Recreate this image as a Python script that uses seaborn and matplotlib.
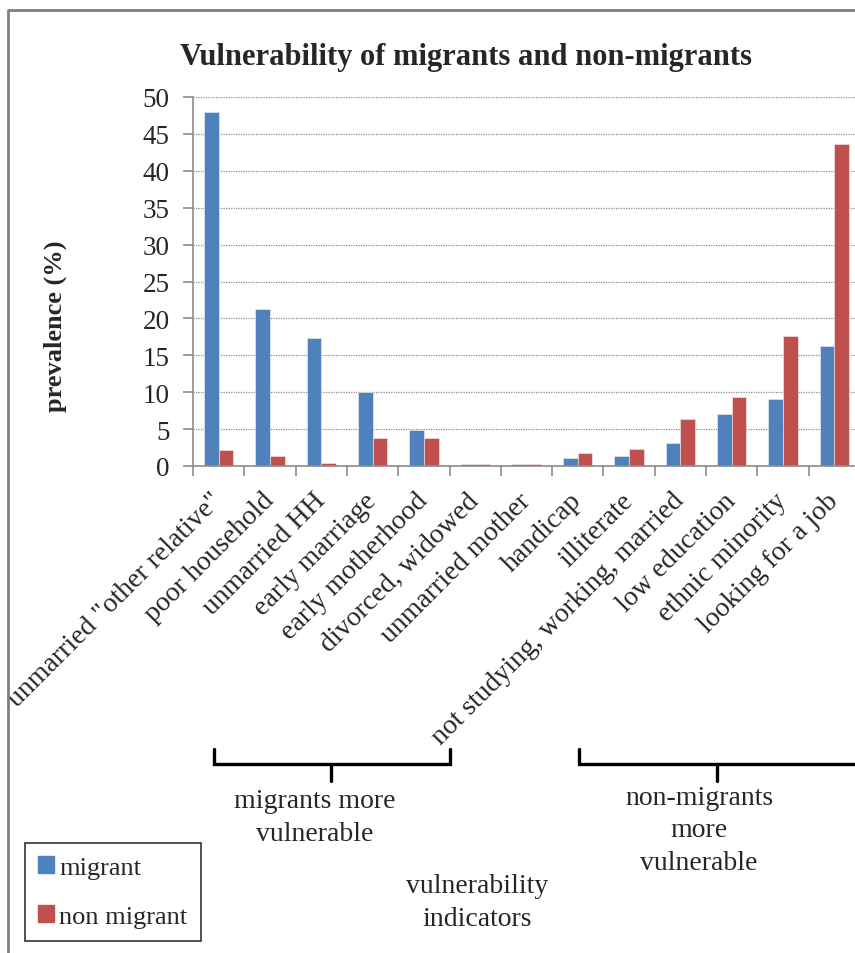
import numpy as np
import pandas as pd
import matplotlib
matplotlib.use("Agg")
import matplotlib.pyplot as plt
from matplotlib.lines import Line2D
import seaborn as sns

# values
indicators = ['unmarried "other relative"', 'poor household', 'unmarried HH',
              'early marriage', 'early motherhood', 'divorced, widowed',
              'unmarried mother', 'handicap', 'illiterate',
              'not studying, working, married', 'low education',
              'ethnic minority', 'looking for a job']
migrant = [48.0, 21.3, 17.3, 10.0, 4.9, 0.3, 0.3, 1.1, 1.3, 3.1, 7.0, 9.1, 16.2]
non_migrant = [2.2, 1.3, 0.4, 3.8, 3.8, 0.3, 0.3, 1.8, 2.3, 6.4, 9.4, 17.6, 43.6]
groups = ['migrant', 'non migrant']
colors = ['#4F81BD', '#C0504D']

df = pd.DataFrame({
    'indicator': indicators * 2,
    'group': [groups[0]] * len(indicators) + [groups[1]] * len(indicators),
    'value': migrant + non_migrant,
})

sns.set_style('white')
plt.rcParams['font.family'] = ['Liberation Serif', 'DejaVu Serif']

W, H = 855, 954
fig = plt.figure(figsize=(W / 100, H / 100), dpi=100)
ax = fig.add_axes([193 / W, 1 - 467 / H, 667 / W, 369 / H])

sns.barplot(data=df, x='indicator', y='value', hue='group', palette=colors,
            order=indicators, hue_order=groups, width=0.57, gap=0,
            saturation=1, edgecolor='#f2f2f2', linewidth=0.4, ax=ax)

ax.set_ylim(0, 50)
ax.set_xlim(-0.5, len(indicators) - 0.5)
ax.set_yticks(np.arange(0, 51, 5))
ax.yaxis.grid(True, linestyle=(0, (1, 1)), color='#8c8c8c', linewidth=0.9)
ax.set_axisbelow(True)
for side in ['top', 'right']:
    ax.spines[side].set_visible(False)
for side in ['left', 'bottom']:
    ax.spines[side].set_color('#8c8c8c')
    ax.spines[side].set_linewidth(1.2)

ax.tick_params(axis='y', labelsize=19.5, length=7, width=1.2, color='#8c8c8c',
               pad=10, left=True)
ax.set_xticks(np.arange(-0.5, len(indicators), 1), minor=True)
ax.tick_params(axis='x', which='minor', length=7, width=1.2, color='#8c8c8c', bottom=True)
ax.tick_params(axis='x', which='major', length=0, pad=22)
ax.set_xticks(range(len(indicators)))
ax.set_xticklabels(indicators, rotation=45, ha='right', va='center',
                   rotation_mode='anchor', fontsize=20)
ax.set_xlabel('')
ax.set_ylabel('')
ax.legend_.remove()

fig.text(466 / W, 1 - 58 / H, 'Vulnerability of migrants and non-migrants',
         ha='center', va='center', fontsize=22, fontweight='bold')
fig.text(55 / W, 1 - 326 / H, 'prevalence (%)', rotation=90,
         ha='center', va='center', fontsize=19, fontweight='bold')

# brackets grouping the indicators
def bracket(x0, x1, xm):
    kw = dict(color='black', linewidth=2.4, transform=fig.transFigure,
              solid_joinstyle='miter')
    ys = [1 - 750 / H, 1 - 765 / H, 1 - 765 / H, 1 - 750 / H]
    fig.add_artist(Line2D([x0 / W, x0 / W, x1 / W, x1 / W], ys, **kw))
    fig.add_artist(Line2D([xm / W, xm / W], [1 - 765 / H, 1 - 782 / H], **kw))

bracket(214, 450, 331)
bracket(579, 858, 717)

fig.text(315 / W, 1 - 818 / H, 'migrants more\nvulnerable', ha='center',
         va='center', fontsize=20, linespacing=1.4)
fig.text(699 / W, 1 - 831 / H, 'non-migrants\nmore\nvulnerable', ha='center',
         va='center', fontsize=20, linespacing=1.4)
fig.text(477 / W, 1 - 903 / H, 'vulnerability\nindicators', ha='center',
         va='center', fontsize=20, linespacing=1.4)

# legend box in the lower left corner
handles = [plt.Rectangle((0, 0), 1, 1, color=c) for c in colors]
leg = fig.legend(handles, groups, loc='lower left',
                 bbox_to_anchor=(25 / W, 12 / H), fontsize=19, frameon=True,
                 fancybox=False, handlelength=0.6, handleheight=0.6,
                 handletextpad=0.2, labelspacing=1.0, borderpad=0.5,
                 borderaxespad=0)
leg.get_frame().set_edgecolor('black')
leg.get_frame().set_linewidth(1.2)

# outer chart border (left and top edges are visible)
fig.add_artist(Line2D([8 / W, 8 / W, 1], [0, 1 - 11 / H, 1 - 11 / H],
                      color='#7f7f7f', linewidth=2, transform=fig.transFigure))

fig.savefig('out.png', dpi=100)
